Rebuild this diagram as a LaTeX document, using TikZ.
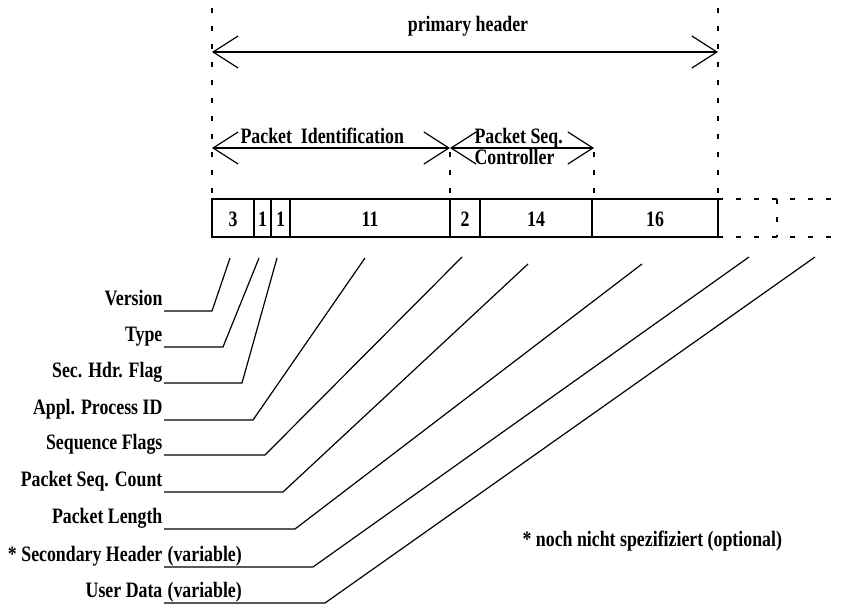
\documentclass[tikz,border=0pt]{standalone}
\usepackage{fontspec}
\setmainfont{Liberation Serif}[FakeStretch=0.81]
\usetikzlibrary{arrows.meta}
\begin{document}
\begin{tikzpicture}[x=1pt,y=-1pt,line width=1.2pt,
  lbl/.style={font=\bfseries\fontsize{22}{25}\selectfont, inner sep=0pt},
  dashv/.style={dash pattern=on 5pt off 13pt},
  barb/.style={{Straight Barb[length=25pt,width=32pt]}-{Straight Barb[length=25pt,width=32pt]}}]
\useasboundingbox (0,0) rectangle (843,605);
% dashed guide lines
\draw[dashv] (212,8) -- (212,199);
\draw[dashv] (718,8) -- (718,199);
\draw[dashv] (450,152) -- (450,199);
\draw[dashv] (594,152) -- (594,199);
% primary header
\coordinate (phL) at (212,52);
\coordinate (phR) at (718,52);
\draw[barb] (phL) -- (phR);
\node[lbl, anchor=base] (ph) at (468,31) {primary header};
% packet identification / seq controller
\coordinate (piL) at (212,148);
\coordinate (piR) at (450,148);
\coordinate (psR) at (594,148);
\draw[barb] (piL) -- (piR);
\draw[barb] (piR) -- (psR);
\node[lbl, anchor=base west] (pid) at (240,143) {Packet~~Identification};
\node[lbl, anchor=base west] (psq) at (474,143) {Packet Seq.};
\node[lbl, anchor=base west] (pctl) at (474,164) {Controller};
% packet box
\draw (212,199) rectangle (718,237);
\foreach \x in {254,271,290,450,480,592} \draw (\x,199) -- (\x,237);
\foreach \n/\cx/\t in {c1/233/3, c2/262.5/1, c3/280.5/1, c4/370/11, c5/465/2, c6/536/14, c7/655/16}
  \node[lbl, anchor=base] (\n) at (\cx,226) {\t};
% dashed extension
\draw[dashv] (718,199) -- (842,199);
\draw[dashv] (718,237) -- (842,237);
\draw[dashv] (777,199) -- (777,237);
% field labels with leader lines
\foreach \n/\t/\u/\c/\tx/\ty in {
  ver/Version/311/212/230/258,
  typ/Type/347/223/259/258,
  shf/Sec. Hdr. Flag/383/242/277/258,
  api/Appl. Process ID/420/253/365/258,
  sqf/Sequence Flags/455/265/462/257,
  psc/Packet Seq. Count/492/283/528/264,
  pkl/Packet Length/529/295/642/264,
  sec/{* Secondary Header}/567/313/749/257,
  usr/User Data/603/325/815/257}
{
  \node[lbl, anchor=base east] (\n) at (163,\u-6) {\t};
  \coordinate (\n-s) at (164,\u);
  \coordinate (\n-c) at (\c,\u);
  \coordinate (\n-t) at (\tx,\ty);
  \draw (\n-s) -- (\n-c) -- (\n-t);
}
\node[lbl, anchor=base west] (secv) at (167,561) {(variable)};
\node[lbl, anchor=base west] (usrv) at (167,597) {(variable)};
% footnote
\node[lbl, anchor=base west] (fn) at (522,546) {* noch nicht spezifiziert (optional)};
\end{tikzpicture}
\end{document}
